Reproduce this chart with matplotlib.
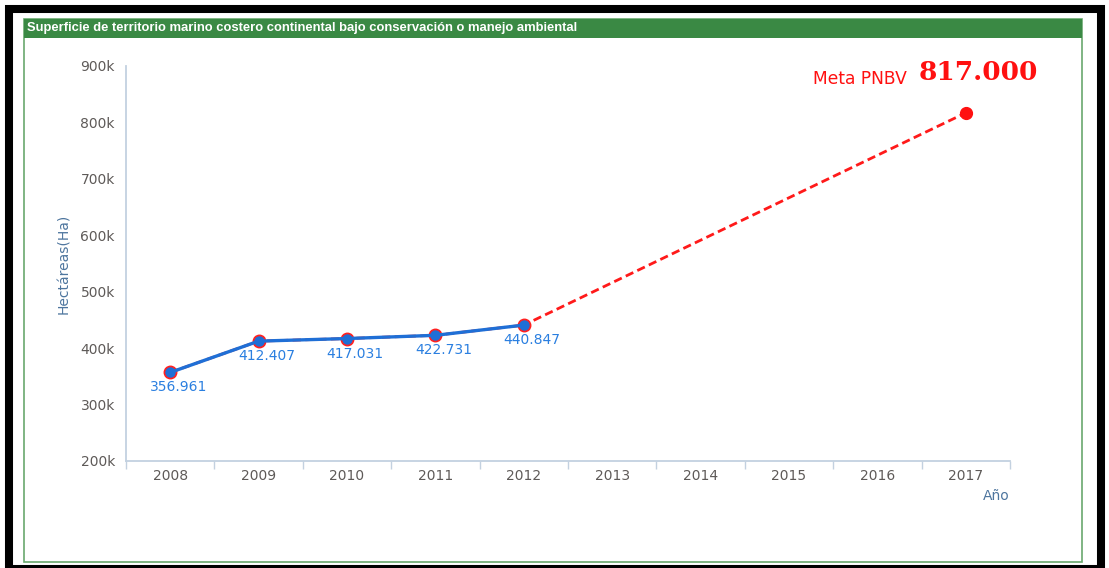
import matplotlib.pyplot as plt
from matplotlib.patches import Rectangle

# Superficie bajo conservación (Ha) por año
years = ["2008", "2009", "2010", "2011", "2012", "2013", "2014", "2015", "2016", "2017"]
real_years = ["2008", "2009", "2010", "2011", "2012"]
real_values = [356961, 412407, 417031, 422731, 440847]
meta_year = "2017"
meta_value = 817000
y_ticks = [200000, 300000, 400000, 500000, 600000, 700000, 800000, 900000]

W, H = 1109, 568


def px_x(x):
    return x / W


def px_y(y):
    return 1 - y / H


def fmt_miles(v):
    return f"{v:,.0f}".replace(",", ".")


fig = plt.figure(figsize=(W / 100, H / 100), dpi=100)
fig.patch.set_facecolor("white")

# marco negro exterior
fig.add_artist(Rectangle((px_x(9), px_y(569)), px_x(1092), 560 / H,
                         transform=fig.transFigure, fill=False,
                         edgecolor="black", linewidth=5.8))
# panel con borde verde y cabecera
fig.add_artist(Rectangle((px_x(24), px_y(562)), px_x(1058), 543 / H,
                         transform=fig.transFigure, fill=False,
                         edgecolor="#6aa86e", linewidth=1.2))
fig.add_artist(Rectangle((px_x(24), px_y(38)), px_x(1058), 19 / H,
                         transform=fig.transFigure, facecolor="#3a8944",
                         edgecolor="none"))
fig.text(px_x(27), px_y(28.5), "Superficie de territorio marino costero continental bajo conservación o manejo ambiental",
         color="white", fontsize=9.4, fontweight="bold", family="Liberation Sans",
         ha="left", va="center")

ax = fig.add_axes([px_x(126), px_y(461), px_x(884), 395 / H])
x_pos = {y: i for i, y in enumerate(years)}

# serie meta (roja, discontinua) por debajo de la serie real
meta_x = [x_pos[y] for y in real_years] + [x_pos[meta_year]]
meta_y = real_values + [meta_value]
ax.plot(meta_x, meta_y, color="#ff1a1a", linewidth=2, linestyle=(0, (3, 1.6)), zorder=2)
ax.plot([x_pos[y] for y in real_years], real_values, "o", color="#ff2020",
        markersize=9, linestyle="none", zorder=2)
ax.plot([x_pos[meta_year]], [meta_value], "o", color="#ff1010", markersize=8.5, zorder=3)

# serie real (azul)
rx = [x_pos[y] for y in real_years]
ax.plot(rx, real_values, color="#1f6fd6", linewidth=2.4, zorder=4)
ax.plot(rx, real_values, "o", color="#1f6fd6", markersize=6.5, linestyle="none", zorder=5)

for x, v in zip(rx, real_values):
    ax.annotate(fmt_miles(v), (x, v), textcoords="offset pixels", xytext=(8, -15),
                ha="center", va="center", color="#2a7fe0", fontsize=10)

ax.annotate(fmt_miles(meta_value), (x_pos[meta_year], meta_value),
            textcoords="offset pixels", xytext=(72, 33), ha="right", va="baseline",
            color="#ff1010", fontsize=19, fontweight="bold", family="DejaVu Serif",
            annotation_clip=False)
ax.annotate("Meta PNBV", (x_pos[meta_year], meta_value),
            textcoords="offset pixels", xytext=(-59, 29), ha="right", va="baseline",
            color="#ff1010", fontsize=12.3, annotation_clip=False)

ax.set_xlim(-0.5, len(years) - 0.5)
ax.set_ylim(200000, 900000)
ax.set_yticks(y_ticks)
ax.set_yticklabels([f"{t // 1000}k" for t in y_ticks])
ax.set_xticks(range(len(years)))
ax.set_xticklabels(years)
ax.set_xticks([i - 0.5 for i in range(len(years) + 1)], minor=True)

for side in ["top", "right"]:
    ax.spines[side].set_visible(False)
for side in ["left", "bottom"]:
    ax.spines[side].set_color("#c3d1e0")
    ax.spines[side].set_linewidth(1.3)

ax.tick_params(axis="x", which="major", length=0, pad=6, labelsize=10, labelcolor="#5e5a58")
ax.tick_params(axis="x", which="minor", length=6, width=1, color="#c3d1e0", direction="out")
ax.tick_params(axis="y", length=0, pad=8, labelsize=10, labelcolor="#5e5a58")

ax.set_ylabel("Hectáreas(Ha)", color="#4d759e", fontsize=10, labelpad=7)
fig.text(px_x(1010), px_y(496), "Año", color="#4d759e", fontsize=10, ha="right", va="center")

fig.savefig("out.png", dpi=100)
